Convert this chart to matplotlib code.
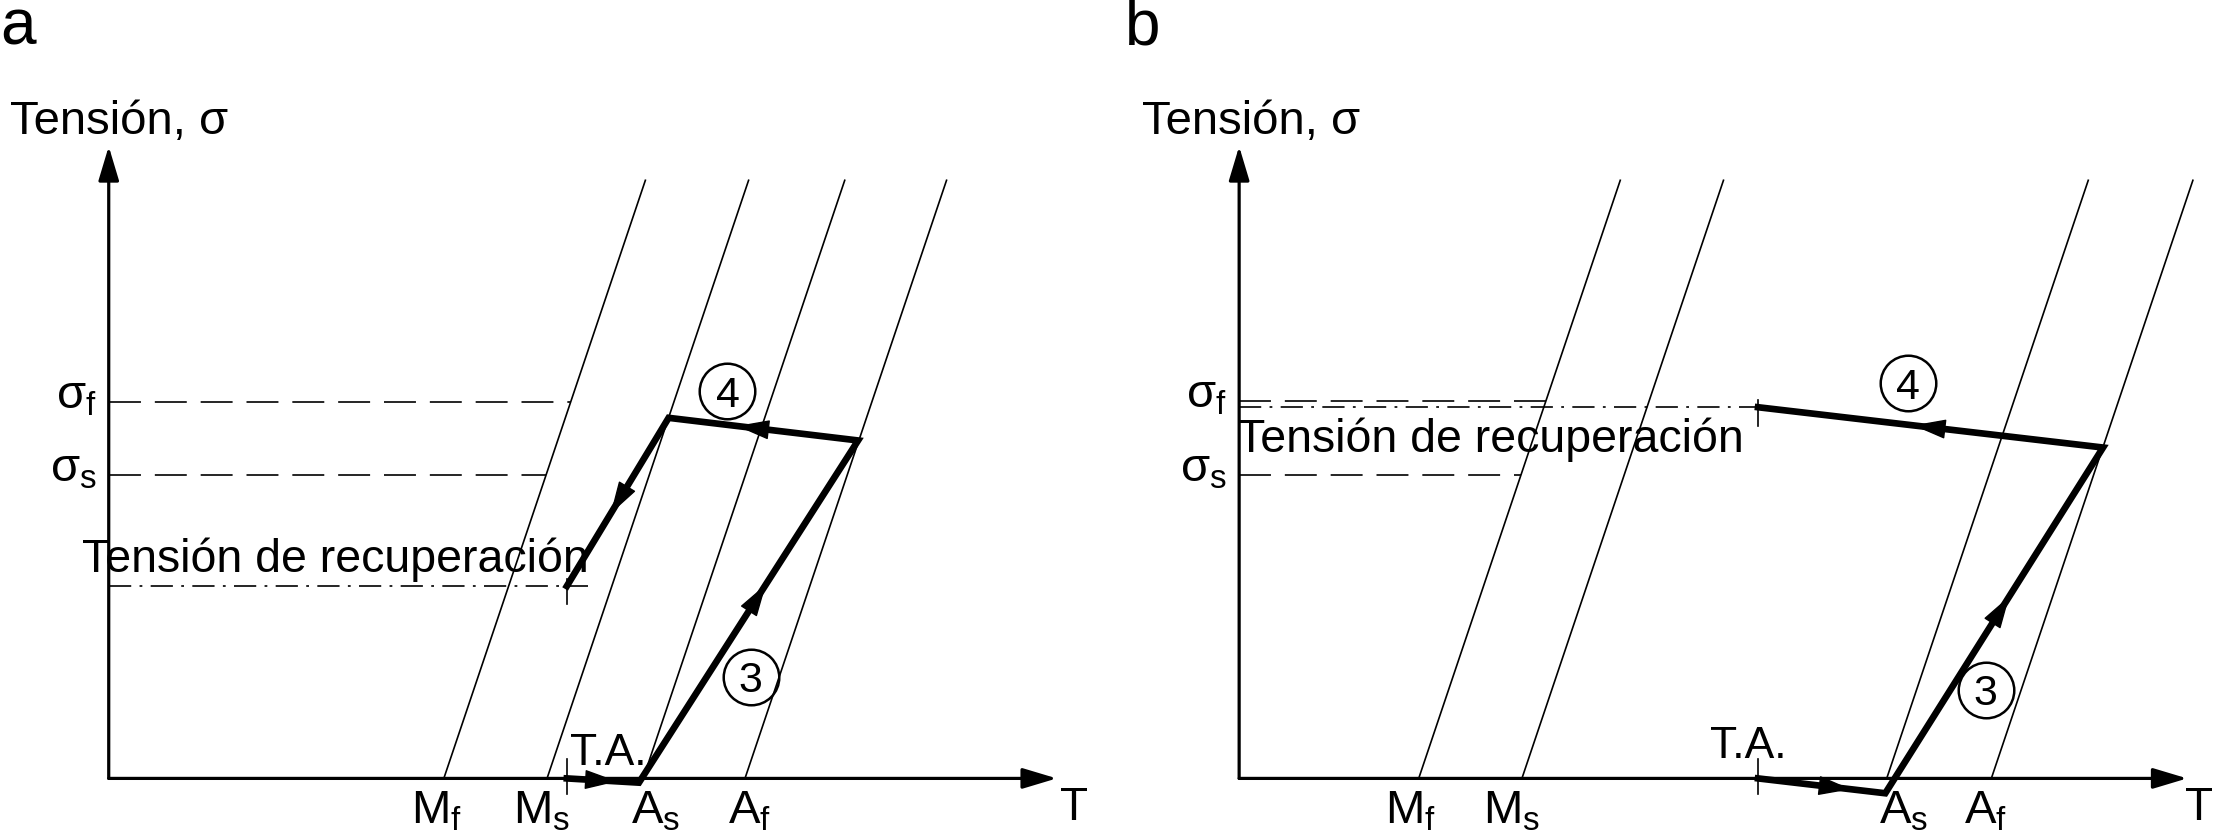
import numpy as np
import matplotlib.pyplot as plt
from matplotlib.patches import FancyArrowPatch

plt.rcParams['font.family'] = ['Liberation Sans', 'DejaVu Sans']
plt.rcParams['mathtext.fontset'] = 'custom'
plt.rcParams['mathtext.rm'] = 'Liberation Sans'
plt.rcParams['mathtext.it'] = 'Liberation Sans:italic'
plt.rcParams['lines.scale_dashes'] = False

# transformation lines T = T0 + slope * sigma (same slope for all four)
temp_labels = [r'$\mathrm{M}_\mathrm{f}$', r'$\mathrm{M}_\mathrm{s}$',
               r'$\mathrm{A}_\mathrm{s}$', r'$\mathrm{A}_\mathrm{f}$']
T0_a = [237, 310, 378, 450]
T0_b = [127, 200, 458, 532]
slope = 0.337
sigma_top = 423

sigma_f = [266, 267]
sigma_s = [214.6, 214.6]
sigma_rec = [136, 262.5]
T_amb = [324, 367]

# thermomechanical path (T, sigma)
path_a_T = [324, 375, 530, 396, 324]
path_a_s = [0, -3, 239, 255, 136]
path_b_T = [367, 457, 611, 367]
path_b_s = [0, -10.5, 234, 262.5]

fig = plt.figure(figsize=(22.17, 8.32), dpi=100)


def arrow(ax, p0, p1, lw, hl, hw, ms):
    ax.add_patch(FancyArrowPatch(p0, p1, arrowstyle=f'-|>,head_length={hl},head_width={hw}',
                                 mutation_scale=ms, lw=lw, color='k',
                                 shrinkA=0, shrinkB=0, clip_on=False, zorder=5))


def panel(ax, letter, T0, sf, ss, srec, ta, pT, ps, fracs, lab_dx,
          circ4, circ3, rec_xy, ta_xy, rec_end, letter_x, ylab_x, t_x):
    # axes with arrows
    arrow(ax, (0, 0), (670.5, 0), 2.3, 1.5, 0.45, 14)
    arrow(ax, (0, 0), (0, 447), 2.3, 1.5, 0.45, 14)

    # transformation lines
    for t in T0:
        ax.plot([t, t + slope * sigma_top], [0, sigma_top], color='k', lw=1.2,
                clip_on=False)

    # sigma_f, sigma_s dashed up to the Mf line
    for s in (sf, ss):
        ax.plot([0, T0[0] + slope * s], [s, s], color='k', lw=1.2,
                ls=(0, (23, 10)), clip_on=False)
    ax.text(-8.5, sf - 4.5, r'$\mathrm{σ}_\mathrm{f}$', fontsize=34, ha='right', va='baseline')
    ax.text(-8.5, ss - 4.5, r'$\mathrm{σ}_\mathrm{s}$', fontsize=34, ha='right', va='baseline')

    # recovery stress dash-dot
    ax.plot([0, rec_end], [srec, srec], color='k', lw=1.2,
            ls=(0, (16, 6, 2, 6)), clip_on=False)
    ax.plot([ta, ta], [srec + 5, srec - 13], color='k', lw=1.2)
    ax.text(rec_xy[0], rec_xy[1], 'Tensión de recuperación', fontsize=33.5,
            ha='left', va='baseline')

    # ambient temperature tick
    ax.plot([ta, ta], [14, -11], color='k', lw=1.2)
    ax.text(ta_xy[0], ta_xy[1], 'T.A.', fontsize=32, ha='left', va='baseline')

    # thick path with arrowheads
    ax.plot(pT, ps, color='k', lw=4.8, solid_joinstyle='miter', clip_on=False, zorder=4)
    for i, f in enumerate(fracs):
        p0 = np.array([pT[i], ps[i]])
        p1 = np.array([pT[i + 1], ps[i + 1]])
        tip = p0 + f * (p1 - p0)
        u = (p1 - p0) / np.hypot(*(p1 - p0))
        arrow(ax, tip - 26 * u, tip, 1.0, 1.5, 0.45, 14)

    # circled step numbers
    for (x, y), d in ((circ4, '4'), (circ3, '3')):
        ax.plot(x, y, 'o', ms=40, mfc='none', mec='k', mew=1.8)
        ax.text(x, y, d, fontsize=31, ha='center', va='center_baseline')

    # temperature labels
    for t, lab, dx in zip(T0, temp_labels, lab_dx):
        ax.text(t + dx, -32, lab, fontsize=34, ha='center', va='baseline')
    ax.text(t_x, -29.5, 'T', fontsize=33, ha='left', va='baseline')

    ax.text(ylab_x, 456, 'Tensión, σ', fontsize=34, ha='left', va='baseline')
    ax.text(letter_x, 518.7, letter, fontsize=46, ha='left', va='baseline')


ax_a = fig.add_axes([0, 0, 0.5, 1])
ax_a.set_xlim(-76.9, 707.1)
ax_a.set_ylim(-37.9, 550.5)
ax_a.axis('off')
panel(ax_a, 'a', T0_a, sigma_f[0], sigma_s[0], sigma_rec[0], T_amb[0],
      path_a_T, path_a_s, [0.7, 0.58, 0.64, 0.57], [-5, -4, 9, 3.5],
      (437.6, 273.9), (454, 72), (-19, 146.2), (326, 9.5), 339, -77, -70, 672.8)

ax_b = fig.add_axes([0.5, 0, 0.5, 1])
ax_b.set_xlim(-92.4, 691.6)
ax_b.set_ylim(-37.9, 550.5)
ax_b.axis('off')
panel(ax_b, 'b', T0_b, sigma_f[1], sigma_s[1], sigma_rec[1], T_amb[1],
      path_b_T, path_b_s, [0.73, 0.57, 0.55], [-6, -7, 12, -4],
      (473, 279.5), (528, 62.7), (-1.8, 231), (333, 14.5), 367, -80.7, -69, 669)

fig.savefig('out.png', dpi=100)
